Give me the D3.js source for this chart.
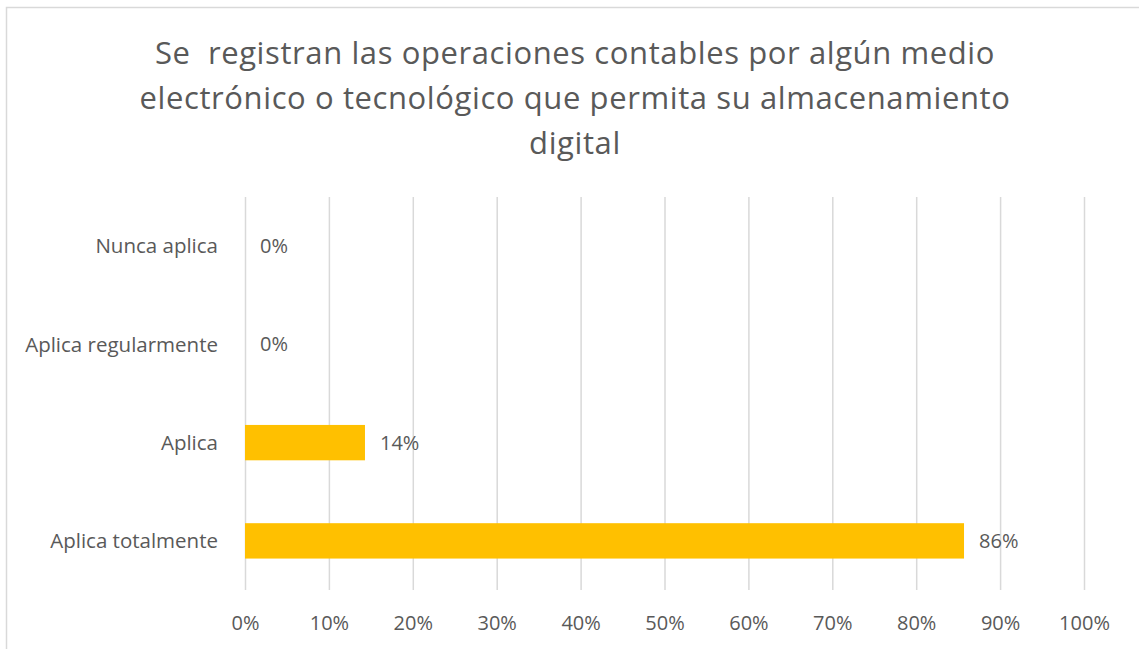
<!DOCTYPE html>
<html>
<head>
<meta charset="utf-8">
<script src="https://cdn.jsdelivr.net/npm/d3@7"></script>
<style>
  body { margin: 0; background: #fff; }
  text { font-family: "Open Sans", Lato, sans-serif; fill: #595959; }
</style>
</head>
<body>
<script>
// data
var categories = ["Nunca aplica", "Aplica regularmente", "Aplica", "Aplica totalmente"];
var values = [0, 0, 0.143, 0.857];
var valueLabels = ["0%", "0%", "14%", "86%"];
var tickValues = [0, 0.1, 0.2, 0.3, 0.4, 0.5, 0.6, 0.7, 0.8, 0.9, 1];
var titleLines = ["Se  registran las operaciones contables por algún medio",
                  "electrónico o tecnológico que permita su almacenamiento",
                  "digital"];

var width = 1139, height = 649;
var fontFam = "'Open Sans', Lato, sans-serif";

var svg = d3.select("body").append("svg")
    .attr("width", width)
    .attr("height", height);

// chart border (only top and left visible in the crop)
svg.append("rect")
    .attr("x", 6.5)
    .attr("y", 7.5)
    .attr("width", 1160)
    .attr("height", 700)
    .style("fill", "none")
    .style("stroke", "#d9d9d9")
    .style("stroke-width", 1.5);

// title
svg.append("g").selectAll("text")
    .data(titleLines)
    .enter()
    .append("text")
    .attr("x", 575)
    .attr("y", function (d, i) { return 64 + i * 45; })
    .attr("text-anchor", "middle")
    .attr("font-size", "31px")
    .attr("letter-spacing", "0.6px")
    .style("white-space", "pre")
    .text(function (d) { return d; });

var x = d3.scaleLinear().domain([0, 1]).range([245, 1084]);
var y = d3.scaleBand().domain(categories).range([197, 590]).paddingInner(0.64).paddingOuter(0.32);

// gridlines
svg.append("g").selectAll("line")
    .data(tickValues)
    .enter()
    .append("line")
    .attr("x1", function (d) { return x(d) + 0.5; })
    .attr("x2", function (d) { return x(d) + 0.5; })
    .attr("y1", 197)
    .attr("y2", 590)
    .style("stroke", "#d9d9d9")
    .style("stroke-width", 1.5);

// x axis tick labels
var xAxis = d3.axisBottom(x)
    .tickValues(tickValues)
    .tickSize(0)
    .tickPadding(0)
    .tickFormat(d3.format(".0%"));

var xg = svg.append("g")
    .attr("transform", "translate(0,630)")
    .call(xAxis);
xg.select(".domain").remove();
xg.selectAll("text")
    .attr("dy", 0)
    .attr("font-size", "20px")
    .style("font-family", fontFam)
    .style("fill", "#595959");

// category labels
var yAxis = d3.axisLeft(y).tickSize(0).tickPadding(0);
var yg = svg.append("g")
    .attr("transform", "translate(218,0)")
    .call(yAxis);
yg.select(".domain").remove();
yg.selectAll("text")
    .attr("font-size", "20.5px")
    .attr("dy", "0.35em")
    .style("font-family", fontFam)
    .style("fill", "#595959");

// bars
svg.append("g").selectAll("rect")
    .data(values)
    .enter()
    .append("rect")
    .attr("x", x(0))
    .attr("y", function (d, i) { return y(categories[i]); })
    .attr("width", function (d) { return x(d) - x(0); })
    .attr("height", y.bandwidth())
    .style("fill", "#ffc000");

// value labels
svg.append("g").selectAll("text")
    .data(values)
    .enter()
    .append("text")
    .attr("x", function (d) { return x(d) + 15; })
    .attr("y", function (d, i) { return y(categories[i]) + y.bandwidth() / 2; })
    .attr("dy", "0.35em")
    .attr("font-size", "20px")
    .text(function (d, i) { return valueLabels[i]; });
</script>
</body>
</html>
